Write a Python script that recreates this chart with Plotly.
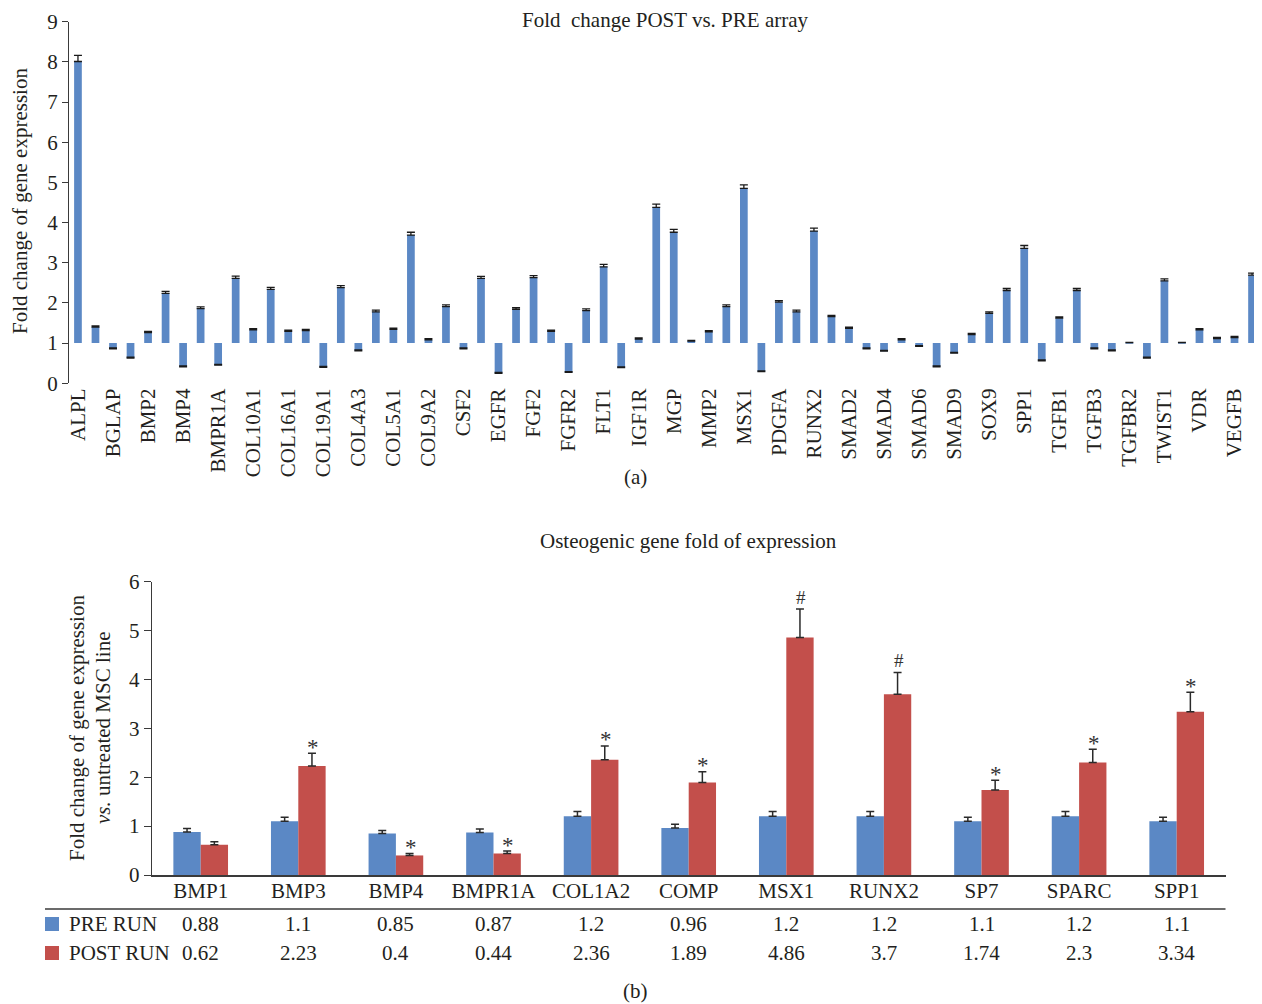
import numpy as np
import plotly.graph_objects as go

# ---------------- data: panel (a) ----------------
genes_a = ["ALPL", "ANXA5", "BGLAP", "BMP1", "BMP2", "BMP3", "BMP4", "BMP6", "BMPR1A", "BMPR2",
           "COL10A1", "COL14A1", "COL16A1", "COL18A1", "COL19A1", "COL1A2", "COL4A3", "COL4A4",
           "COL5A1", "COL7A1", "COL9A2", "COMP", "CSF2", "EGF", "EGFR", "FGF1", "FGF2", "FGFR1",
           "FGFR2", "FGFR3", "FLT1", "IGF1", "IGF1R", "IGF2", "MGP", "MMP10", "MMP2", "MMP9",
           "MSX1", "NFKB1", "PDGFA", "PHEX", "RUNX2", "SMAD1", "SMAD2", "SMAD3", "SMAD4", "SMAD5",
           "SMAD6", "SMAD7", "SMAD9", "SOST", "SOX9", "SPARC", "SPP1", "TFIP11", "TGFB1", "TGFB2",
           "TGFB3", "TGFBR1", "TGFBR2", "TUFT1", "TWIST1", "VCAM1", "VDR", "VEGFA", "VEGFB", "VEGFC"]
fold_a = [8.01, 1.40, 0.86, 0.63, 1.26, 2.24, 0.41, 1.86, 0.45, 2.61,
          1.33, 2.34, 1.29, 1.31, 0.40, 2.38, 0.81, 1.78,
          1.34, 3.69, 1.08, 1.91, 0.86, 2.61, 0.25, 1.84, 2.63, 1.29,
          0.27, 1.81, 2.90, 0.39, 1.10, 4.38, 3.76, 1.05, 1.28, 1.91,
          4.85, 0.29, 2.02, 1.78, 3.79, 1.66, 1.37, 0.86, 0.80, 1.08,
          0.92, 0.41, 0.75, 1.21, 1.74, 2.31, 3.36, 0.56, 1.62, 2.31,
          0.86, 0.81, 1.01, 0.63, 2.55, 1.01, 1.33, 1.11, 1.14, 2.69]
err_a = [0.15, 0.03, 0.02, 0.02, 0.03, 0.05, 0.02, 0.04, 0.02, 0.06,
         0.03, 0.05, 0.03, 0.03, 0.02, 0.05, 0.02, 0.04,
         0.03, 0.07, 0.03, 0.04, 0.02, 0.05, 0.02, 0.04, 0.05, 0.03,
         0.02, 0.04, 0.06, 0.02, 0.03, 0.08, 0.07, 0.02, 0.03, 0.04,
         0.09, 0.02, 0.04, 0.04, 0.07, 0.03, 0.03, 0.02, 0.02, 0.03,
         0.02, 0.02, 0.02, 0.03, 0.04, 0.05, 0.07, 0.02, 0.03, 0.05,
         0.02, 0.02, 0.01, 0.02, 0.05, 0.01, 0.03, 0.03, 0.03, 0.05]
baseline_a = 1.0
yticks_a = list(range(0, 10))

# ---------------- data: panel (b) ----------------
genes_b = ["BMP1", "BMP3", "BMP4", "BMPR1A", "COL1A2", "COMP", "MSX1", "RUNX2", "SP7", "SPARC", "SPP1"]
pre_run = [0.88, 1.1, 0.85, 0.87, 1.2, 0.96, 1.2, 1.2, 1.1, 1.2, 1.1]
post_run = [0.62, 2.23, 0.4, 0.44, 2.36, 1.89, 4.86, 3.7, 1.74, 2.3, 3.34]
pre_err = [0.07, 0.08, 0.06, 0.07, 0.10, 0.08, 0.10, 0.10, 0.08, 0.10, 0.08]
post_err = [0.06, 0.26, 0.04, 0.05, 0.28, 0.22, 0.58, 0.44, 0.20, 0.27, 0.40]
signif = ["", "*", "*", "*", "*", "*", "#", "#", "*", "*", "*"]
yticks_b = list(range(0, 7))

# ---------------- styling ----------------
FONT = "Liberation Serif"
FS = 21
TXT = "#231f20"
BLUE = "#5b88c5"
RED = "#c34f4b"
AX = "#3a3a3a"
OFF = 8                      # page body margin
W, H = 1262 - OFF, 1004 - OFF
BAR_W_B = 0.28               # width of each bar in panel (b), category units


def px(x):
    return (x - OFF) / W


def py(y):
    return 1 - (y - OFF) / H


# plot area geometry (pixels in the 1262x1004 window)
a_x0, a_x1, a_top, a_bot = 69.2, 1260.8, 21.7, 383.3
b_x0, b_x1, b_top, b_bot = 151.9, 1225.5, 581.7, 875.0

fig = go.Figure()

n_a = len(genes_a)
fig.add_trace(go.Bar(
    x=genes_a, y=[v - baseline_a for v in fold_a], base=baseline_a,
    width=0.44, marker=dict(color=BLUE, line=dict(width=0)),
    error_y=dict(type="data", array=err_a, arrayminus=[0] * n_a, visible=True,
                 color="#1a1a1a", thickness=1.3, width=4),
    xaxis="x", yaxis="y", showlegend=False, name="Fold change",
))

fig.add_trace(go.Bar(
    x=genes_b, y=pre_run, width=BAR_W_B, offset=-BAR_W_B,
    marker=dict(color=BLUE, line=dict(width=0)),
    error_y=dict(type="data", array=pre_err, arrayminus=[0] * len(genes_b), visible=True,
                 color="#2a2a2a", thickness=1.5, width=4),
    xaxis="x2", yaxis="y2", showlegend=False, name="PRE RUN",
))
fig.add_trace(go.Bar(
    x=genes_b, y=post_run, width=BAR_W_B, offset=0.0,
    marker=dict(color=RED, line=dict(width=0)),
    error_y=dict(type="data", array=post_err, arrayminus=[0] * len(genes_b), visible=True,
                 color="#2a2a2a", thickness=1.5, width=4),
    xaxis="x2", yaxis="y2", showlegend=False, name="POST RUN",
))

a_dom_y = [py(a_bot), py(a_top)]
ymax_a = yticks_a[-1]
line_pos = a_dom_y[0] + (baseline_a - yticks_a[0]) / (ymax_a - yticks_a[0]) * (a_dom_y[1] - a_dom_y[0])

tickfont = dict(family=FONT, size=FS, color=TXT)

fig.update_layout(
    width=W, height=H, autosize=False,
    margin=dict(l=0, r=0, t=0, b=0, pad=0, autoexpand=False),
    paper_bgcolor="white", plot_bgcolor="rgba(0,0,0,0)",
    font=dict(family=FONT, size=FS, color=TXT),
    xaxis=dict(domain=[px(a_x0), px(a_x1)], anchor="y", type="category",
               categoryorder="array", categoryarray=genes_a,
               range=[-0.5, n_a - 0.5],
               tickmode="array", tickvals=genes_a[0::2], ticktext=genes_a[0::2],
               tickangle=-90, tickfont=tickfont, showline=False, ticks="",
               showgrid=False, zeroline=False, automargin=False),
    xaxis3=dict(overlaying="x", anchor="free", position=line_pos, type="linear",
                range=[-0.5, n_a - 0.5],
                tickmode="array", tickvals=list(np.arange(n_a + 1) - 0.5)[1:],
                ticks="outside", ticklen=5, tickwidth=1.2, tickcolor=AX,
                showticklabels=False, showline=True, linecolor=AX, linewidth=1.3,
                showgrid=False, zeroline=False, automargin=False),
    yaxis=dict(domain=a_dom_y, anchor="x", range=[yticks_a[0], ymax_a],
               tickmode="array", tickvals=yticks_a, ticks="outside", ticklen=6,
               tickwidth=1.2, tickcolor=AX, showline=True, linecolor=AX, linewidth=1.3,
               showgrid=False, zeroline=False, tickfont=tickfont, automargin=False),
    xaxis2=dict(domain=[px(b_x0), px(b_x1)], anchor="y2", type="category",
                categoryorder="array", categoryarray=genes_b,
                range=[-0.5, len(genes_b) - 0.5], tickfont=tickfont,
                showline=True, linecolor=AX, linewidth=2, ticks="",
                ticklabelstandoff=-4,
                showgrid=False, zeroline=False, automargin=False),
    yaxis2=dict(domain=[py(b_bot), py(b_top)], anchor="x2", range=[yticks_b[0], yticks_b[-1]],
                tickmode="array", tickvals=yticks_b, ticks="outside", ticklen=7,
                tickwidth=1.2, tickcolor=AX, showline=True, linecolor=AX, linewidth=1.3,
                showgrid=False, zeroline=False, tickfont=tickfont, automargin=False),
)

ann = []
tf = dict(family=FONT, size=FS, color=TXT)
# titles and labels
ann.append(dict(text="Fold\u00a0 change POST vs. PRE array", x=px(665), y=py(20),
                xref="paper", yref="paper", showarrow=False, xanchor="center", yanchor="middle",
                font=tf))
ann.append(dict(text="Fold change of gene expression", x=px(20), y=py(201),
                xref="paper", yref="paper", showarrow=False, textangle=-90,
                xanchor="center", yanchor="middle", font=tf))
ann.append(dict(text="(a)", x=px(635), y=py(477), xref="paper", yref="paper", showarrow=False,
                xanchor="center", yanchor="middle", font=tf))
ann.append(dict(text="Osteogenic gene fold of expression", x=px(688), y=py(541),
                xref="paper", yref="paper", showarrow=False, xanchor="center", yanchor="middle",
                font=tf))
ann.append(dict(text="Fold change of gene expression", x=px(77), y=py(728),
                xref="paper", yref="paper", showarrow=False, textangle=-90,
                xanchor="center", yanchor="middle", font=tf))
ann.append(dict(text="<i>vs.</i> untreated MSC line", x=px(103), y=py(728),
                xref="paper", yref="paper", showarrow=False, textangle=-90,
                xanchor="center", yanchor="middle", font=tf))
ann.append(dict(text="(b)", x=px(635), y=py(991), xref="paper", yref="paper", showarrow=False,
                xanchor="center", yanchor="middle", font=tf))

# significance marks (centred over the POST RUN bar)
for i, (v, e, s) in enumerate(zip(post_run, post_err, signif)):
    if s:
        ann.append(dict(text=s, x=i + BAR_W_B / 2, y=v + e, xref="x2", yref="y2", showarrow=False,
                        xanchor="center", yanchor="middle", xshift=1,
                        yshift=6 if s == "*" else 12,
                        font=dict(family=FONT, size=23 if s == "*" else 19, color="#333")))

# data table
rows = [("PRE RUN", pre_run, BLUE, 924), ("POST RUN", post_run, RED, 953)]
shapes = []
for label, vals, col, yc in rows:
    ann.append(dict(text=label, x=px(67), y=py(yc), xref="paper", yref="paper", showarrow=False,
                    xanchor="left", yanchor="middle", font=tf))
    shapes.append(dict(type="rect", xref="paper", yref="paper",
                       x0=px(45), x1=px(59), y0=py(yc + 7), y1=py(yc - 7),
                       fillcolor=col, line=dict(width=0)))
    for g, v in zip(genes_b, vals):
        ann.append(dict(text=f"{v:g}", x=g, y=py(yc), xref="x2", yref="paper", showarrow=False,
                        xanchor="center", yanchor="middle", font=tf))

shapes.append(dict(type="line", xref="paper", yref="paper", x0=px(45), x1=px(b_x1),
                   y0=py(909), y1=py(909), line=dict(color=AX, width=1.5)))

fig.update_layout(annotations=ann, shapes=shapes)

fig.write_html("out.html")
